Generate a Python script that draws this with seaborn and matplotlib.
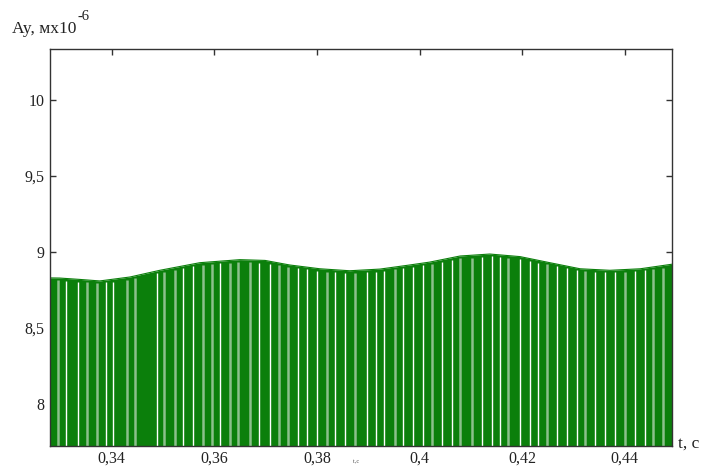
import numpy as np
import matplotlib
matplotlib.use("Agg")
import matplotlib.pyplot as plt
import seaborn as sns
from matplotlib.ticker import FuncFormatter

# envelope of the oscillating signal (upper edge)
t_env = [0.3280, 0.3299, 0.3338, 0.3377, 0.3436, 0.3494, 0.3572, 0.3650,
         0.3699, 0.3747, 0.3806, 0.3864, 0.3923, 0.3981, 0.4020, 0.4079,
         0.4137, 0.4196, 0.4254, 0.4313, 0.4371, 0.4430, 0.4492]
ay_env = [8.83, 8.829, 8.82, 8.81, 8.836, 8.88, 8.93, 8.95,
          8.945, 8.915, 8.89, 8.877, 8.888, 8.915, 8.934, 8.974,
          8.987, 8.97, 8.93, 8.89, 8.88, 8.89, 8.92]

# gaps between the sampled oscillations (white and pale stripes)
t_white = [0.33110, 0.33343, 0.33889, 0.34025, 0.34882, 0.35389, 0.35584,
           0.36110, 0.36869, 0.37084, 0.37629, 0.37804, 0.37999, 0.38350,
           0.38545, 0.38973, 0.39149, 0.39305, 0.39675, 0.39869, 0.40064,
           0.40434, 0.40629, 0.41214, 0.41408, 0.41564, 0.41954, 0.42149,
           0.42305, 0.42675, 0.42870, 0.43064, 0.43415, 0.43610, 0.43805,
           0.44195, 0.44390]
t_pale = [0.32954, 0.33519, 0.33714, 0.34298, 0.34454, 0.35019, 0.35233,
          0.35778, 0.35954, 0.36304, 0.36460, 0.36694, 0.37259, 0.37434,
          0.38194, 0.38740, 0.39519, 0.40239, 0.40785, 0.41019, 0.41720,
          0.42480, 0.43220, 0.44000, 0.44546, 0.44741]

x_ticks = [0.34, 0.36, 0.38, 0.40, 0.42, 0.44]
y_ticks = [8, 8.5, 9, 9.5, 10]

sns.set_style("ticks")
serif = ["Liberation Serif", "DejaVu Serif"]
plt.rcParams["font.family"] = serif

fig = plt.figure(figsize=(7.03, 4.66), dpi=100)
ax = fig.add_axes([50 / 703, 1 - 446 / 466, 622 / 703, 397 / 466])

green = "#0b7f0b"
y_bottom = 7.6
ax.fill_between(t_env, y_bottom, ay_env, color=green, lw=0)
sns.lineplot(x=t_env, y=ay_env, ax=ax, color=green, lw=0.8)

top_w = np.interp(t_white, t_env, ay_env) - 0.015
top_p = np.interp(t_pale, t_env, ay_env) - 0.015
ax.vlines(t_white, y_bottom, top_w, color="white", lw=1.0)
ax.vlines(t_pale, y_bottom, top_p, color="#8cc08c", lw=1.8)

ax.set_xlim(0.3280, 0.4492)
ax.set_ylim(7.724, 10.336)
ax.set_xticks(x_ticks)
ax.set_yticks(y_ticks)

def comma(v, pos):
    s = f"{v:g}"
    return s.replace(".", ",")

ax.xaxis.set_major_formatter(FuncFormatter(comma))
ax.yaxis.set_major_formatter(FuncFormatter(comma))
ax.tick_params(direction="in", length=4, width=1, color="#333333",
               top=True, right=True, labelsize=11.5, labelcolor="#222222")
ax.tick_params(axis="x", pad=3)
ax.tick_params(axis="y", pad=4)
for s in ax.spines.values():
    s.set_visible(True)
    s.set_color("#333333")
    s.set_linewidth(1.0)
ax.set_xlabel("")
ax.set_ylabel("")

fig.text(12 / 703, 1 - 33 / 466, "Ay, мх10", fontsize=12.5, color="#222222",
         family=serif, ha="left", va="baseline")
fig.text(78 / 703, 1 - 20 / 466, "-6", fontsize=10.5, color="#222222",
         family=serif, ha="left", va="baseline")
fig.text(678 / 703, 1 - 448 / 466, "t, c", fontsize=12.5, color="#222222",
         family=serif, ha="left", va="baseline")
fig.text(356 / 703, 1 - 463 / 466, "t,c", fontsize=4.5, color="#555555",
         family=serif, ha="center", va="baseline")

fig.savefig("out.png", dpi=100)
